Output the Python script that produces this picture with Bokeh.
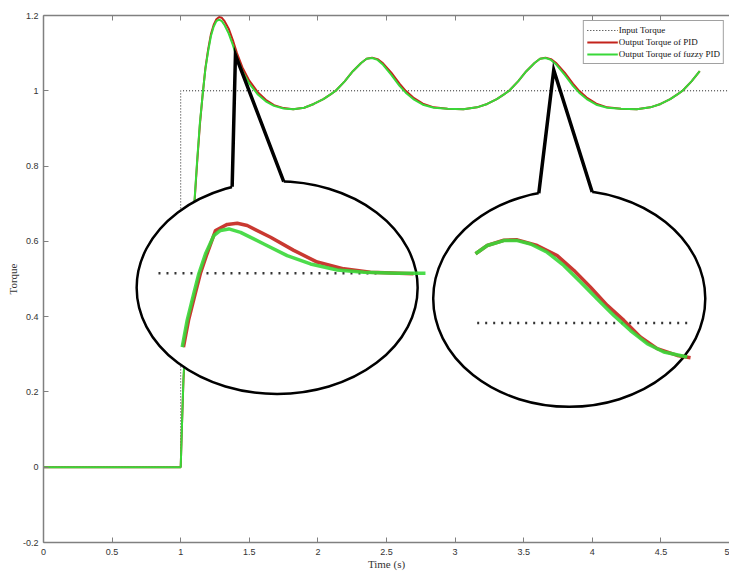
from bokeh.plotting import figure
from bokeh.models import Range1d, FixedTicker, LinearAxis, Legend, LegendItem
from bokeh.embed import file_html
from bokeh.resources import INLINE

# ---------------- main series ----------------
time = [0.0, 1.0, 1.01, 1.02, 1.04, 1.06, 1.08, 1.10, 1.12, 1.14, 1.16, 1.18, 1.20,
        1.22, 1.24, 1.26, 1.28, 1.30, 1.32, 1.35, 1.38, 1.41, 1.45, 1.50, 1.56, 1.62,
        1.68, 1.75, 1.82, 1.90, 1.97, 2.04, 2.095, 2.13, 2.195, 2.255, 2.315, 2.355,
        2.395, 2.435, 2.475, 2.535, 2.595, 2.64, 2.695, 2.765, 2.845, 2.945, 3.06,
        3.159, 3.234, 3.304, 3.359, 3.394, 3.459, 3.519, 3.579, 3.619, 3.659, 3.699,
        3.739, 3.799, 3.859, 3.904, 3.959, 4.029, 4.109, 4.209, 4.324, 4.423, 4.498,
        4.568, 4.623, 4.658, 4.723, 4.783]
pid = [0.0, 0.0, 0.12, 0.23, 0.37, 0.48, 0.59, 0.70, 0.81, 0.91, 0.99, 1.06, 1.11,
       1.15, 1.175, 1.19, 1.196, 1.194, 1.185, 1.165, 1.135, 1.10, 1.062, 1.027, 0.997, 0.976,
       0.962, 0.954, 0.951, 0.955, 0.965, 0.978, 0.991, 1.0, 1.025, 1.052, 1.074, 1.085,
       1.088, 1.084, 1.073, 1.048, 1.019, 1.0, 0.982, 0.966, 0.956, 0.952, 0.951,
       0.956, 0.965, 0.978, 0.991, 1.0, 1.025, 1.052, 1.074, 1.085, 1.088, 1.084,
       1.073, 1.048, 1.019, 1.0, 0.982, 0.966, 0.956, 0.952, 0.951, 0.956, 0.965,
       0.978, 0.991, 1.0, 1.025, 1.052]
fuzzy = [0.0, 0.0, 0.12, 0.235, 0.375, 0.485, 0.595, 0.705, 0.815, 0.915, 0.99, 1.058, 1.105,
         1.145, 1.17, 1.185, 1.189, 1.185, 1.174, 1.152, 1.122, 1.088, 1.052, 1.019, 0.991, 0.972,
         0.960, 0.953, 0.951, 0.955, 0.965, 0.978, 0.991, 1.0, 1.025, 1.052, 1.074, 1.085,
         1.087, 1.082, 1.069, 1.042, 1.013, 0.995, 0.978, 0.963, 0.955, 0.952, 0.951,
         0.956, 0.965, 0.978, 0.991, 1.0, 1.025, 1.052, 1.074, 1.085, 1.087, 1.082,
         1.069, 1.042, 1.013, 0.995, 0.978, 0.963, 0.955, 0.952, 0.951, 0.956, 0.965,
         0.978, 0.991, 1.0, 1.025, 1.052]
input_time = [0.0, 1.0, 1.0, 5.0]
input_torque = [0.0, 0.0, 1.0, 1.0]

x_ticks = [0, 0.5, 1, 1.5, 2, 2.5, 3, 3.5, 4, 4.5, 5]
x_tick_labels = ["0", "0.5", "1", "1.5", "2", "2.5", "3", "3.5", "4", "4.5", "5"]
y_ticks = [-0.2, 0, 0.2, 0.4, 0.6, 0.8, 1.0, 1.2]
y_tick_labels = ["-0.2", "0", "0.2", "0.4", "0.6", "0.8", "1", "1.2"]

# ---------------- magnified insets (drawn in main-axis coordinates) ----------------
inset_cx = [1.703, 3.832]
inset_cy = [0.477, 0.448]
inset_w = [2.048, 1.983]
inset_h = [0.565, 0.575]
tail1_t = [1.375, 1.399, 1.751]
tail1_v = [0.745, 1.095, 0.759]
tail2_t = [3.610, 3.719, 3.999]
tail2_v = [0.728, 1.055, 0.731]
gap_left = [1.375, 3.610]
gap_right = [1.751, 3.999]
gap_bottom = [0.735, 0.717]
gap_top = [0.778, 0.752]

inset1_ref_t = [0.838, 2.45]
inset1_ref_v = [0.515, 0.515]
inset1_pid_t = [1.020, 1.057, 1.106, 1.143, 1.192, 1.254, 1.339, 1.412, 1.485, 1.655,
                1.824, 1.995, 2.189, 2.383, 2.697]
inset1_pid_v = [0.319, 0.390, 0.461, 0.514, 0.567, 0.629, 0.645, 0.648, 0.642, 0.611,
                0.576, 0.545, 0.527, 0.518, 0.514]
inset1_fuzzy_t = [1.011, 1.047, 1.095, 1.132, 1.181, 1.241, 1.290, 1.351, 1.436, 1.606,
                  1.776, 1.946, 2.141, 2.335, 2.578, 2.784]
inset1_fuzzy_v = [0.319, 0.390, 0.461, 0.514, 0.567, 0.615, 0.629, 0.633, 0.624, 0.593,
                  0.562, 0.540, 0.524, 0.518, 0.515, 0.515]

inset2_ref_t = [3.161, 4.716]
inset2_ref_v = [0.383, 0.383]
inset2_pid_t = [3.149, 3.234, 3.355, 3.453, 3.598, 3.744, 3.865, 3.987, 4.109, 4.230,
                4.350, 4.473, 4.619, 4.716]
inset2_pid_v = [0.567, 0.589, 0.603, 0.604, 0.589, 0.562, 0.523, 0.478, 0.430, 0.390,
                0.346, 0.315, 0.297, 0.291]
inset2_fuzzy_t = [3.149, 3.234, 3.355, 3.453, 3.550, 3.671, 3.792, 3.914, 4.036, 4.157,
                  4.278, 4.400, 4.521, 4.692]
inset2_fuzzy_v = [0.567, 0.589, 0.602, 0.602, 0.593, 0.571, 0.536, 0.492, 0.447, 0.403,
                  0.363, 0.328, 0.306, 0.293]

RED = "#c3231b"
GREEN = "#38d838"
AXIS_GRAY = "#808080"
TEXT = "#333333"

p = figure(width=729, height=572, x_range=Range1d(0, 5.0), y_range=Range1d(-0.2, 1.2),
           output_backend="svg", toolbar_location=None,
           min_border_left=43, min_border_right=0, min_border_top=15, min_border_bottom=30)
p.xgrid.visible = False
p.ygrid.visible = False
p.outline_line_color = None
p.background_fill_color = "white"
p.border_fill_color = "white"

for ax, ticks, labels in ((p.xaxis[0], x_ticks, x_tick_labels), (p.yaxis[0], y_ticks, y_tick_labels)):
    ax.ticker = FixedTicker(ticks=ticks)
    ax.major_label_overrides = {t: l for t, l in zip(ticks, labels)}
    ax.axis_line_color = AXIS_GRAY
    ax.axis_line_width = 1.5
    ax.major_tick_line_color = AXIS_GRAY
    ax.major_tick_in = 5
    ax.major_tick_out = 0
    ax.minor_tick_line_color = None
    ax.major_label_text_font = "Liberation Sans"
    ax.major_label_text_font_size = "9px"
    ax.major_label_text_color = TEXT
    ax.axis_label_text_font = "Liberation Serif"
    ax.axis_label_text_font_size = "11px"
    ax.axis_label_text_font_style = "normal"
    ax.axis_label_text_color = TEXT

p.xaxis[0].axis_label = "Time (s)"
p.xaxis[0].major_label_standoff = 6
p.xaxis[0].axis_label_standoff = 0
p.yaxis[0].axis_label = "Torque"
p.yaxis[0].major_label_standoff = 5
p.yaxis[0].axis_label_standoff = 1

top_ax = LinearAxis(ticker=FixedTicker(ticks=x_ticks), major_label_text_font_size="8px",
                    major_label_text_color=None,
                    axis_line_color=AXIS_GRAY, axis_line_width=1.5,
                    major_tick_line_color=AXIS_GRAY, major_tick_in=5, major_tick_out=0,
                    minor_tick_line_color=None, major_label_standoff=0)
p.add_layout(top_ax, "above")

r_in = p.line(input_time, input_torque, line_color="#222222", line_width=1, line_dash="1 2")
r_pid = p.line(time, pid, line_color=RED, line_width=2)
r_fz = p.line(time, fuzzy, line_color=GREEN, line_width=2)

# insets
p.ellipse(x=inset_cx, y=inset_cy, width=inset_w, height=inset_h,
          fill_color="white", line_color="black", line_width=2.5)
p.quad(left=gap_left, right=gap_right, bottom=gap_bottom, top=gap_top,
       fill_color="white", line_color=None)
p.line(tail1_t, tail1_v, line_color="black", line_width=3.5, line_join="miter")
p.line(tail2_t, tail2_v, line_color="black", line_width=3.5, line_join="miter")

p.line(inset1_ref_t, inset1_ref_v, line_color="#333333", line_width=2.5, line_dash="2 6")
p.line(inset2_ref_t, inset2_ref_v, line_color="#333333", line_width=2.5, line_dash="2 6")
p.line(inset1_pid_t, inset1_pid_v, line_color=RED, line_width=3.5, line_alpha=0.9)
p.line(inset2_pid_t, inset2_pid_v, line_color=RED, line_width=3.5, line_alpha=0.9)
p.line(inset1_fuzzy_t, inset1_fuzzy_v, line_color=GREEN, line_width=3.5, line_alpha=0.9)
p.line(inset2_fuzzy_t, inset2_fuzzy_v, line_color=GREEN, line_width=3.5, line_alpha=0.9)

legend = Legend(items=[LegendItem(label="Input Torque", renderers=[r_in]),
                       LegendItem(label="Output Torque of PID", renderers=[r_pid]),
                       LegendItem(label="Output Torque of fuzzy PID", renderers=[r_fz])],
                location="top_right", margin=5, padding=3, spacing=0,
                glyph_width=31, glyph_height=12, label_height=12, label_standoff=1,
                label_text_font="Liberation Serif", label_text_font_size="9px",
                label_text_color="#111111", border_line_color="#444444",
                border_line_width=1, background_fill_color="white", background_fill_alpha=1)
p.add_layout(legend)

open("out.html", "w").write(file_html(p, INLINE))
